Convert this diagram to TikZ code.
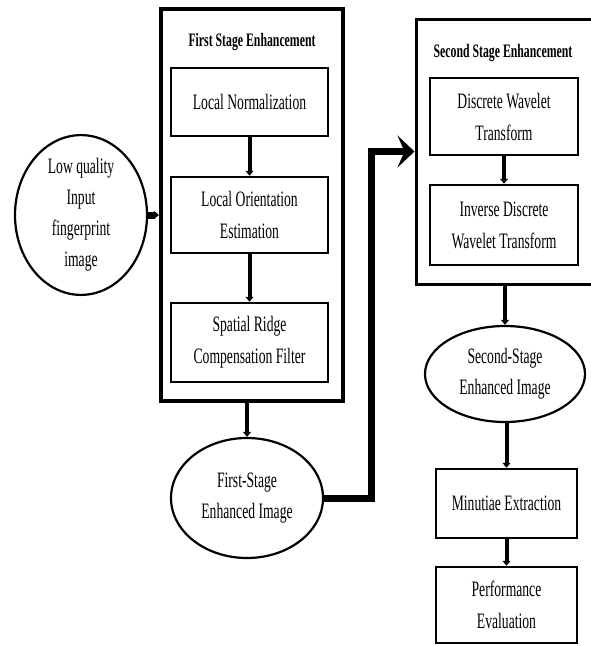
\documentclass[tikz,border=0pt]{standalone}
\usepackage{fontspec}
\setmainfont[FakeStretch=0.62]{Liberation Serif}
\usetikzlibrary{arrows.meta,shapes.geometric}
\begin{document}
\begin{tikzpicture}[x=1pt,y=-1pt,
  box/.style={draw,line width=2.5pt,rectangle,minimum width=148pt,align=center,font=\fontsize{22}{32}\selectfont},
  frm/.style={draw,rectangle,inner sep=0pt},
  ell/.style={draw,line width=2.2pt,ellipse,inner sep=0pt,align=center,font=\fontsize{22}{31}\selectfont},
  ttl/.style={font=\fontsize{19}{22}\selectfont\bfseries},
  arr/.style={line width=4pt,-{Triangle[length=5pt,width=8pt]}},
  big/.style={line width=7pt,-{Stealth[length=17pt,width=32pt,inset=7pt]}}]
\useasboundingbox (0,0) rectangle (590,646);

\node[frm,line width=4pt,minimum width=182pt,minimum height=392pt] (fse1) at (252,205) {};
\node[ttl] (ttl1) at (252,42) {First Stage Enhancement};
\node[box,minimum width=157pt,minimum height=68pt] (ln) at (249.5,102) {Local Normalization};
\node[box,minimum width=157pt,minimum height=76pt] (loe) at (249.5,215) {Local Orientation\\Estimation};
\node[box,minimum width=157pt,minimum height=79pt] (srcf) at (249.5,342.5) {Spatial Ridge\\Compensation Filter};

\node[ell,minimum width=132pt,minimum height=144pt] (lq) at (81,215) {Low quality\\Input\\fingerprint\\image};
\node[ell,minimum width=152pt,minimum height=120pt] (fsei) at (247,498) {First-Stage\\Enhanced Image};

\node[frm,line width=3pt,minimum width=192pt,minimum height=265pt] (fse2) at (512,151.5) {};
\node[ttl] (ttl2) at (503,53) {Second Stage Enhancement};
\node[box,minimum height=77pt] (dwt) at (504,116.5) {Discrete Wavelet\\Transform};
\node[box,minimum height=80pt] (idwt) at (504,225) {Inverse Discrete\\Wavelet Transform};

\node[ell,minimum width=160pt,minimum height=96pt] (ssei) at (505,374) {Second-Stage\\Enhanced Image};
\node[box,minimum width=141pt,minimum height=69pt] (me) at (506.5,503.5) {Minutiae Extraction};
\node[box,minimum width=141pt,minimum height=76pt] (pe) at (506.5,605) {Performance\\Evaluation};

\draw[arr,line width=7pt] (lq.east) -- (lq.east -| fse1.west);
\draw[arr] (ln) -- (loe);
\draw[arr] (loe) -- (srcf);
\draw[arr] (fsei.north |- fse1.south) -- (fsei.north);
\draw[big] (fsei.east) -- ++(47,0) |- (fse2.west);
\draw[arr] (dwt) -- (idwt);
\draw[arr] (ssei.north |- fse2.south) -- (ssei.north);
\draw[arr] (ssei.south -| me.north) -- (me.north);
\draw[arr] (me) -- (pe);
\end{tikzpicture}
\end{document}
